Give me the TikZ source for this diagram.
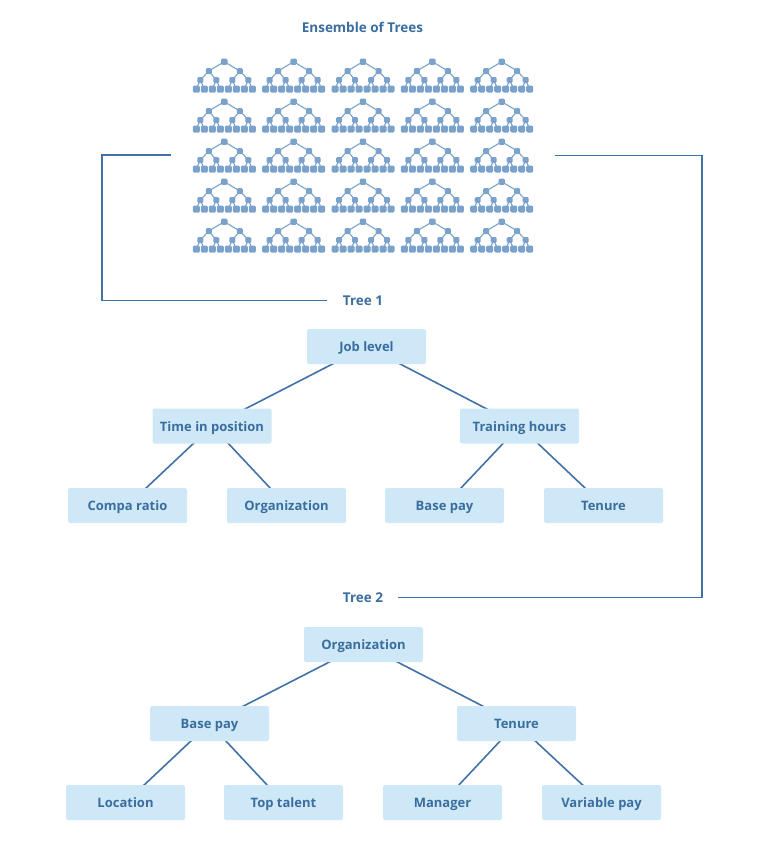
\documentclass[tikz,border=0pt]{standalone}
\usepackage{fontspec}
\setmainfont{Open Sans}
\usetikzlibrary{backgrounds}
\definecolor{txtcol}{HTML}{3A6E9F}
\definecolor{boxfill}{HTML}{CFE8F7}
\definecolor{linecol}{HTML}{4172A7}
\definecolor{iconcol}{HTML}{7BA2CA}
\tikzset{
  box/.style={fill=boxfill, rounded corners=2pt, minimum width=119pt, minimum height=35pt, inner sep=0pt,
    text height=10.4pt, text depth=0pt,
    font=\fontsize{13}{16}\selectfont\bfseries, text=txtcol},
  label/.style={inner sep=0pt, text height=10.4pt, text depth=0pt, font=\fontsize{13.5}{16}\selectfont\bfseries, text=txtcol},
  conn/.style={draw=linecol, line width=1.7pt},
  edge/.style={draw=linecol, line width=1.6pt},
  iconline/.style={draw=iconcol, line width=1.1pt},
  sq/.style={fill=iconcol, rounded corners=1.3pt},
  pics/treeicon/.style={code={
    \draw[iconline] (-28,27.3) -- (-24,18.3) -- (-20,27.3);
    \draw[iconline] (-12,27.3) -- (-8,18.3) -- (-4,27.3);
    \draw[iconline] (4,27.3) -- (8,18.3) -- (12,27.3);
    \draw[iconline] (20,27.3) -- (24,18.3) -- (28,27.3);
    \draw[iconline] (-24,18.3) -- (-15.5,9.3) -- (-8,18.3);
    \draw[iconline] (8,18.3) -- (15.5,9.3) -- (24,18.3);
    \draw[iconline] (-15.5,9.3) -- (0,0) -- (15.5,9.3);
    \fill[sq] (-3.2,-3.2) rectangle (3.2,3.2);
    \foreach \x in {-15.5,15.5} {\fill[sq] (\x-3,9.3-3) rectangle (\x+3,9.3+3);}
    \foreach \x in {-24,-8,8,24} {\fill[sq] (\x-3,18.3-3) rectangle (\x+3,18.3+3);}
    \foreach \x in {-28,-20,-12,-4,4,12,20,28} {\fill[sq] (\x-3.5,27.3-3.5) rectangle (\x+3.5,27.3+3.5);}
  }}
}
\begin{document}
\begin{tikzpicture}[x=1pt,y=-1pt]
\useasboundingbox (0,0) rectangle (767,841);

\node[label] (title) at (362.5,27) {Ensemble of Trees};

\foreach \i in {0,...,4} {
  \foreach \j in {0,...,4} {
    \pic at ({224.3+69.35*\i},{61.7+40*\j}) {treeicon};
  }
}

\coordinate (eL) at (171,155.3);
\coordinate (eR) at (555,155.5);

\node[label] (t1) at (363,300.5) {Tree 1};
\node[label] (t2) at (363,597.5) {Tree 2};

\draw[conn] (eL) -- ++(-69.3,0) |- ([xshift=-16pt]t1.west);
\draw[conn] (eR) -- ++(147.3,0) |- ([xshift=15pt]t2.east);

% Tree 1
\node[box] (a1) at (366.5,346.5) {Job level};
\node[box] (b1) at (212,426) {Time in position};
\node[box] (c1) at (519.5,426) {Training hours};
\node[box] (d1) at (127.5,505.5) {Compa ratio};
\node[box] (e1) at (286.5,505.5) {Organization};
\node[box] (f1) at (444.5,505.5) {Base pay};
\node[box] (g1) at (603.5,505.5) {Tenure};

% Tree 2
\node[box] (a2) at (363.5,644.5) {Organization};
\node[box] (b2) at (209.5,723.5) {Base pay};
\node[box] (c2) at (516.5,723.5) {Tenure};
\node[box] (d2) at (125.5,802.5) {Location};
\node[box] (e2) at (283.5,802.5) {Top talent};
\node[box] (f2) at (442.5,802.5) {Manager};
\node[box] (g2) at (601.5,802.5) {Variable pay};

\begin{pgfonlayer}{background}
\draw[edge] (a1.center) -- (b1.center);
\draw[edge] (a1.center) -- (c1.center);
\draw[edge] (b1.center) -- (d1.center);
\draw[edge] (b1.center) -- (e1.center);
\draw[edge] (c1.center) -- (f1.center);
\draw[edge] (c1.center) -- (g1.center);
\draw[edge] (a2.center) -- (b2.center);
\draw[edge] (a2.center) -- (c2.center);
\draw[edge] (b2.center) -- (d2.center);
\draw[edge] (b2.center) -- (e2.center);
\draw[edge] (c2.center) -- (f2.center);
\draw[edge] (c2.center) -- (g2.center);
\end{pgfonlayer}
\end{tikzpicture}
\end{document}
